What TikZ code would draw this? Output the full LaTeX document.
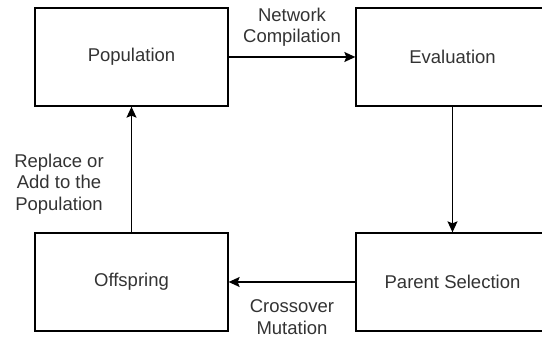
\documentclass[tikz,border=0pt]{standalone}
\usepackage{fontspec}
\setmainfont{Liberation Sans}
\usetikzlibrary{arrows.meta}
\definecolor{txt}{HTML}{333333}
\tikzset{
  box/.style={draw=black, line width=1.3pt, minimum width=193pt, minimum height=98pt, inner sep=0pt, font=\fontsize{18.5}{21}\selectfont, text=txt},
  lbl/.style={align=center, inner sep=0pt, font=\fontsize{18.5}{21.5}\selectfont, text=txt},
  conn/.style={line width=1.3pt, -{Stealth[length=11pt, width=10pt, inset=2pt]}}
}
\begin{document}
\begin{tikzpicture}[x=1pt, y=-1pt]
\useasboundingbox (0,0) rectangle (542,339);
\clip (0,0) rectangle (542,339);
\node[box] (pop) at (131.5,57) {Population};
\node[box] (eval) at (452.5,57) {Evaluation};
\node[box] (off) at (131.5,282) {Offspring};
\node[box] (par) at (452.5,282) {Parent Selection};
\draw[conn] (pop) -- (eval);
\draw[conn] (eval) -- (par);
\draw[conn] (par) -- (off);
\draw[conn] (off) -- (pop);
\node[lbl] (l1) at (292,27) {Network\\Compilation};
\node[lbl] (l2) at (292,317) {Crossover\\Mutation};
\node[lbl] (l3) at (59,184) {Replace or\\Add to the\\Population};
\end{tikzpicture}
\end{document}
